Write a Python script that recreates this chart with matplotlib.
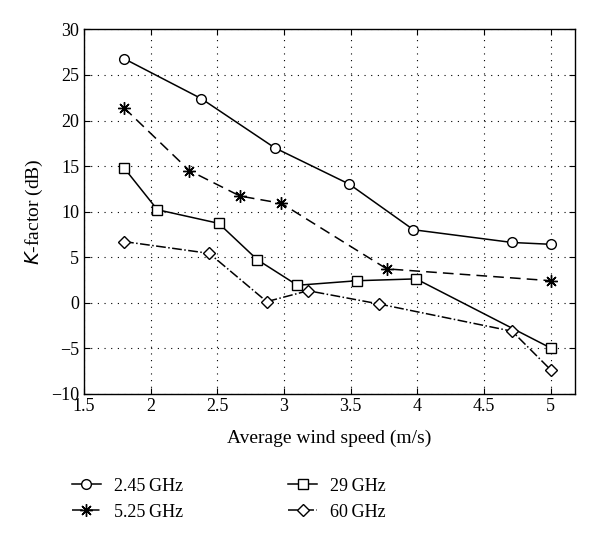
import matplotlib.pyplot as plt

plt.rcParams['font.family'] = ['Liberation Serif', 'DejaVu Serif']

x_245 = [1.80, 2.38, 2.93, 3.49, 3.97, 4.71, 5.0]
y_245 = [26.8, 22.4, 17.0, 13.0, 8.0, 6.6, 6.4]

x_525 = [1.80, 2.29, 2.67, 2.98, 3.77, 5.0]
y_525 = [21.4, 14.5, 11.7, 10.9, 3.7, 2.4]

x_29 = [1.80, 2.05, 2.51, 2.80, 3.10, 3.55, 3.99, 5.0]
y_29 = [14.8, 10.2, 8.7, 4.7, 1.9, 2.4, 2.6, -5.0]

x_60 = [1.80, 2.44, 2.87, 3.18, 3.71, 4.71, 5.0]
y_60 = [6.7, 5.4, 0.1, 1.3, -0.15, -3.15, -7.4]

xticks = [1.5, 2, 2.5, 3, 3.5, 4, 4.5, 5]
yticks = [-10, -5, 0, 5, 10, 15, 20, 25, 30]

fig = plt.figure(figsize=(6, 5.41), dpi=100)
ax = fig.add_axes([0.14, 0.2725, 0.818, 0.673])

lw = 1.1
ax.plot(x_245, y_245, '-', color='k', lw=lw, marker='o', ms=7,
        mfc='white', mec='k', mew=1.0, label='2.45\u2009GHz')
ax.plot(x_525, y_525, '--', color='k', lw=lw, marker=(8, 2, 0), ms=9,
        mec='k', mew=1.0, label='5.25\u2009GHz', dashes=(7, 4))
ax.plot(x_29, y_29, '-', color='k', lw=lw, marker='s', ms=6.5,
        mfc='white', mec='k', mew=1.0, label='29\u2009GHz')
ax.plot(x_60, y_60, '-.', color='k', lw=lw, marker='D', ms=6,
        mfc='white', mec='k', mew=1.0, label='60\u2009GHz')

h, l = ax.get_legend_handles_labels()

ax.set_xlim(1.5, 5.18)
ax.set_ylim(-10, 30)
ax.set_xticks(xticks)
ax.set_xticklabels([('%g' % v) for v in xticks])
ax.set_yticks(yticks)
ax.set_yticklabels([('\u2212%g' % -v if v < 0 else '%g' % v) for v in yticks])
ax.tick_params(direction='in', top=True, right=True, labelsize=13, length=4)
ax.grid(True, color='k', linestyle=(0, (1, 5)), linewidth=0.8)
for s in ax.spines.values():
    s.set_linewidth(1.0)

ax.set_xlabel('Average wind speed (m/s)', fontsize=14, labelpad=10)
ax.set_ylabel('$K$-factor (dB)', fontsize=14, labelpad=4)

fig.legend(h, l, loc='upper left', bbox_to_anchor=(0.093, 0.147), ncol=2,
           frameon=False, fontsize=13, handlelength=1.6, columnspacing=5.85,
           labelspacing=0.5, handletextpad=0.7)

fig.savefig('out.png', dpi=100)
